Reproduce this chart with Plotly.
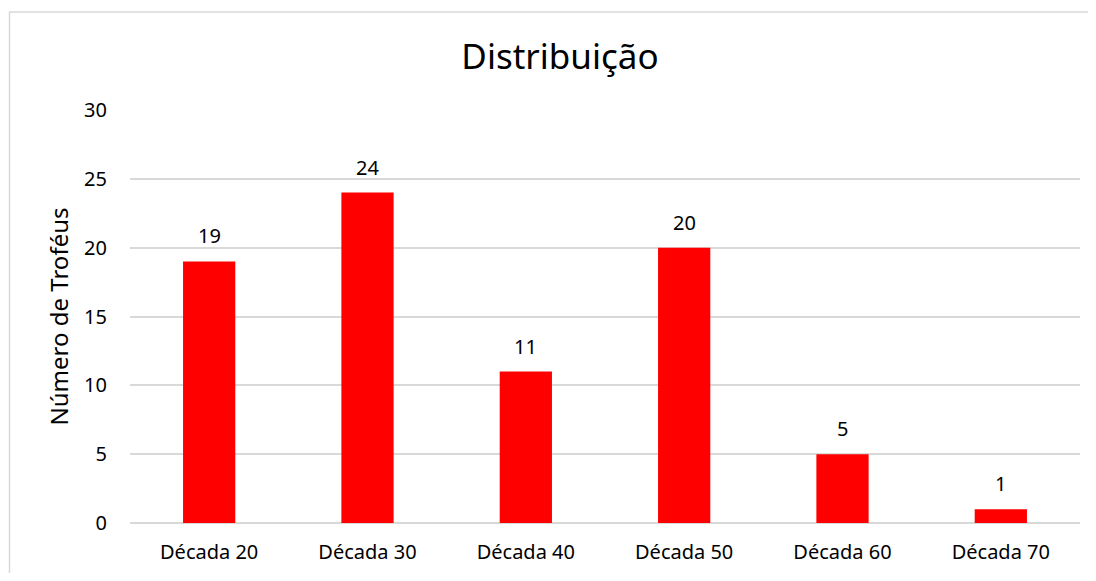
import plotly.graph_objects as go

categories = ["Década 20", "Década 30", "Década 40", "Década 50", "Década 60", "Década 70"]
values = [19, 24, 11, 20, 5, 1]
y_ticks = [0, 5, 10, 15, 20, 25, 30]

FONT = "Noto Sans"

fig = go.Figure(go.Bar(
    x=categories, y=values,
    marker=dict(color="#ff0000", line=dict(width=0)),
    cliponaxis=False,
))

for c, v in zip(categories, values):
    fig.add_annotation(x=c, y=v, text=str(v), showarrow=False,
                       yanchor="bottom", yshift=10,
                       font=dict(family=FONT, size=20, color="#000000"))

# page has an 8px body margin; keep the figure inside the viewport
W, H = 1080, 565
L, R, T, B = 122, 8, 102, 48
pw = W - L - R
ph = H - T - B

def px2x(px):
    return (px - L) / pw

def py2y(py):
    return (H - B - py) / ph

fig.add_shape(type="rect", xref="paper", yref="paper",
              x0=px2x(1.5), x1=px2x(1300), y0=py2y(800), y1=py2y(3.5),
              line=dict(color="#d9d9d9", width=1.5), layer="below")

fig.update_layout(
    width=W, height=H,
    margin=dict(l=L, r=R, t=T, b=B),
    paper_bgcolor="white", plot_bgcolor="white",
    bargap=0.67,
    showlegend=False,
    title=dict(text="Distribuição", x=552 / W, xref="container", xanchor="center",
               y=1 - 49 / H, yanchor="middle",
               font=dict(family=FONT, size=35, color="#000000")),
    font=dict(family=FONT, color="#000000"),
)
fig.update_xaxes(showgrid=False, showline=False, ticks="", ticklabelstandoff=15,
                 tickfont=dict(family=FONT, size=20, color="#000000"))
fig.update_yaxes(range=[0, 30], tickvals=y_ticks, showgrid=True,
                 gridcolor="#d9d9d9", gridwidth=1.5, zeroline=True,
                 zerolinecolor="#d9d9d9", zerolinewidth=1.5,
                 ticks="", ticklabelstandoff=22,
                 tickfont=dict(family=FONT, size=20, color="#000000"),
                 title=dict(text="Número de Troféus", standoff=8,
                            font=dict(family=FONT, size=24, color="#000000")))

fig.write_html("out.html")
